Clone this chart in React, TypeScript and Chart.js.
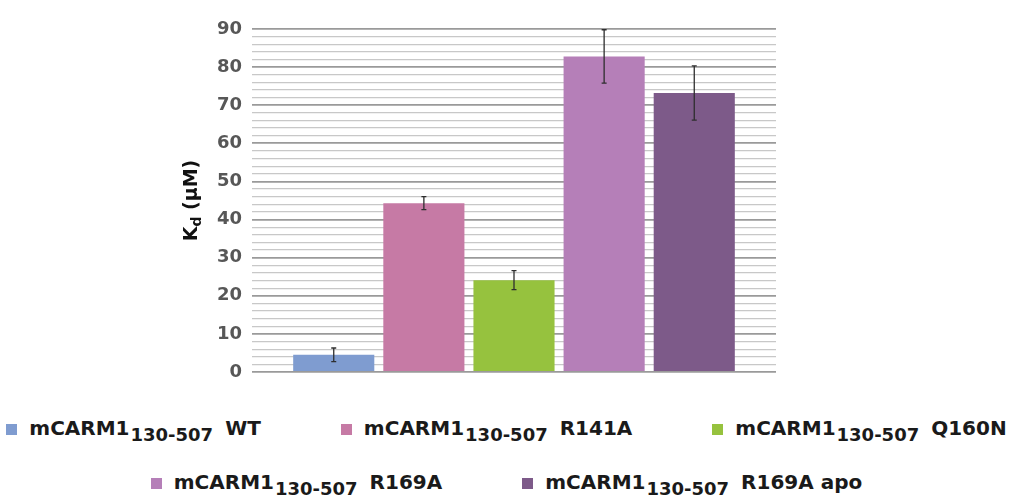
import React, { useEffect, useRef } from 'react';
import { Chart, registerables } from 'chart.js';

Chart.register(...registerables);

// ---- data ----
const proteinName = 'mCARM1';
const constructRange = '130-507';
const variantLabels = ['WT', 'R141A', 'Q160N', 'R169A', 'R169A apo'];
const kdValues = [4.5, 44.3, 24.1, 82.8, 73.2];
const kdErrors = [1.8, 1.7, 2.5, 7.0, 7.1];
const barColors = ['#7f9cd0', '#c67aa5', '#96c23e', '#b57fb8', '#7d5a89'];
const yMin = 0;
const yMax = 90;
const yStep = 2;
const yLabelStep = 10;
const legendRows = [[0, 1, 2], [3, 4]];

const errorBarPlugin = {
  id: 'errorBars',
  afterDatasetsDraw(chart: any) {
    const ctx = chart.ctx;
    const yScale = chart.scales.y;
    ctx.save();
    ctx.strokeStyle = '#2e2e2e';
    ctx.lineWidth = 1.3;
    chart.data.datasets.forEach((ds: any, i: number) => {
      const meta = chart.getDatasetMeta(i);
      const el = meta.data[0];
      if (!el) return;
      const v = ds.data[0];
      const e = ds.errors[0];
      const x = el.x;
      const yTop = yScale.getPixelForValue(v + e);
      const yBot = yScale.getPixelForValue(v - e);
      ctx.beginPath();
      ctx.moveTo(x, yTop);
      ctx.lineTo(x, yBot);
      ctx.moveTo(x - 2.5, yTop);
      ctx.lineTo(x + 2.5, yTop);
      ctx.moveTo(x - 2.5, yBot);
      ctx.lineTo(x + 2.5, yBot);
      ctx.stroke();
    });
    ctx.restore();
  },
};

const axisTitlePlugin = {
  id: 'axisTitle',
  afterDraw(chart: any) {
    const ctx = chart.ctx;
    const area = chart.chartArea;
    const cy = (area.top + area.bottom) / 2;
    ctx.save();
    ctx.translate(197, cy);
    ctx.rotate(-Math.PI / 2);
    ctx.fillStyle = '#111';
    ctx.textBaseline = 'alphabetic';
    const big = 'bold 19px "DejaVu Sans"';
    const small = 'bold 14px "DejaVu Sans"';
    ctx.font = big;
    const wK = ctx.measureText('K').width;
    const rest = ' (\u00b5M)';
    const wRest = ctx.measureText(rest).width;
    ctx.font = small;
    const wd = ctx.measureText('d').width;
    const total = wK + wd + wRest;
    let x = -total / 2;
    ctx.font = big;
    ctx.fillText('K', x, 0);
    x += wK;
    ctx.font = small;
    ctx.fillText('d', x, 4);
    x += wd;
    ctx.font = big;
    ctx.fillText(rest, x, 0);
    ctx.restore();
  },
};

function LegendItem({ idx }: { idx: number }) {
  return (
    <span style={{ display: 'inline-flex', alignItems: 'baseline', whiteSpace: 'nowrap' }}>
      <span
        style={{
          display: 'inline-block',
          width: 11,
          height: 11,
          background: barColors[idx],
          marginRight: 12,
        }}
      />
      <span>{proteinName}</span>
      <span style={{ fontSize: 18, position: 'relative', top: 6, marginLeft: 1, marginRight: 12 }}>
        {constructRange}
      </span>
      <span>{variantLabels[idx]}</span>
    </span>
  );
}

export default function App() {
  const canvasRef = useRef<HTMLCanvasElement | null>(null);

  useEffect(() => {
    document.body.style.margin = '0';
    const canvas = canvasRef.current;
    if (!canvas) return;
    const chart = new Chart(canvas, {
      type: 'bar',
      data: {
        labels: [''],
        datasets: variantLabels.map((name, i) => ({
          label: `${proteinName} ${constructRange} ${name}`,
          data: [kdValues[i]],
          errors: [kdErrors[i]],
          backgroundColor: barColors[i],
          borderWidth: 0,
          categoryPercentage: 0.86,
          barPercentage: 0.9,
        })) as any,
      },
      options: {
        responsive: false,
        animation: false,
        layout: { padding: { left: 0, right: 237, top: 29, bottom: 28 } },
        plugins: {
          legend: { display: false },
          tooltip: { enabled: false },
        },
        scales: {
          x: { display: false },
          y: {
            min: yMin,
            max: yMax,
            afterFit(scale: any) {
              scale.width = 252;
            },
            border: { display: false },
            grid: {
              drawTicks: false,
              color: (c: any) => (c.tick && c.tick.value % yLabelStep === 0 ? '#9a9a9a' : '#c8c8c8'),
              lineWidth: (c: any) => (c.tick && c.tick.value % yLabelStep === 0 ? 1.8 : 1.2),
            },
            ticks: {
              stepSize: yStep,
              autoSkip: false,
              padding: 10,
              color: '#575757',
              font: { family: '"DejaVu Sans"', size: 18, weight: 'bold' },
              callback: (v: any) => (Number(v) % yLabelStep === 0 ? String(v) : ''),
            },
          },
        },
      },
      plugins: [errorBarPlugin, axisTitlePlugin],
    });
    return () => chart.destroy();
  }, []);

  return (
    <div style={{ position: 'relative', width: 1013, height: 499, background: '#fff', overflow: 'hidden' }}>
      <canvas ref={canvasRef} width={1013} height={400} style={{ display: 'block' }} />
      <div
        style={{
          position: 'absolute',
          left: 0,
          top: 416,
          width: 1013,
          fontFamily: '"DejaVu Sans", sans-serif',
          fontWeight: 'bold',
          fontSize: 20,
          color: '#1a1a1a',
        }}
      >
        {legendRows.map((row, r) => (
          <div
            key={r}
            style={{
              display: 'flex',
              justifyContent: 'center',
              gap: 80,
              height: 54,
              alignItems: 'flex-start',
            }}
          >
            {row.map((idx) => (
              <LegendItem key={idx} idx={idx} />
            ))}
          </div>
        ))}
      </div>
    </div>
  );
}
